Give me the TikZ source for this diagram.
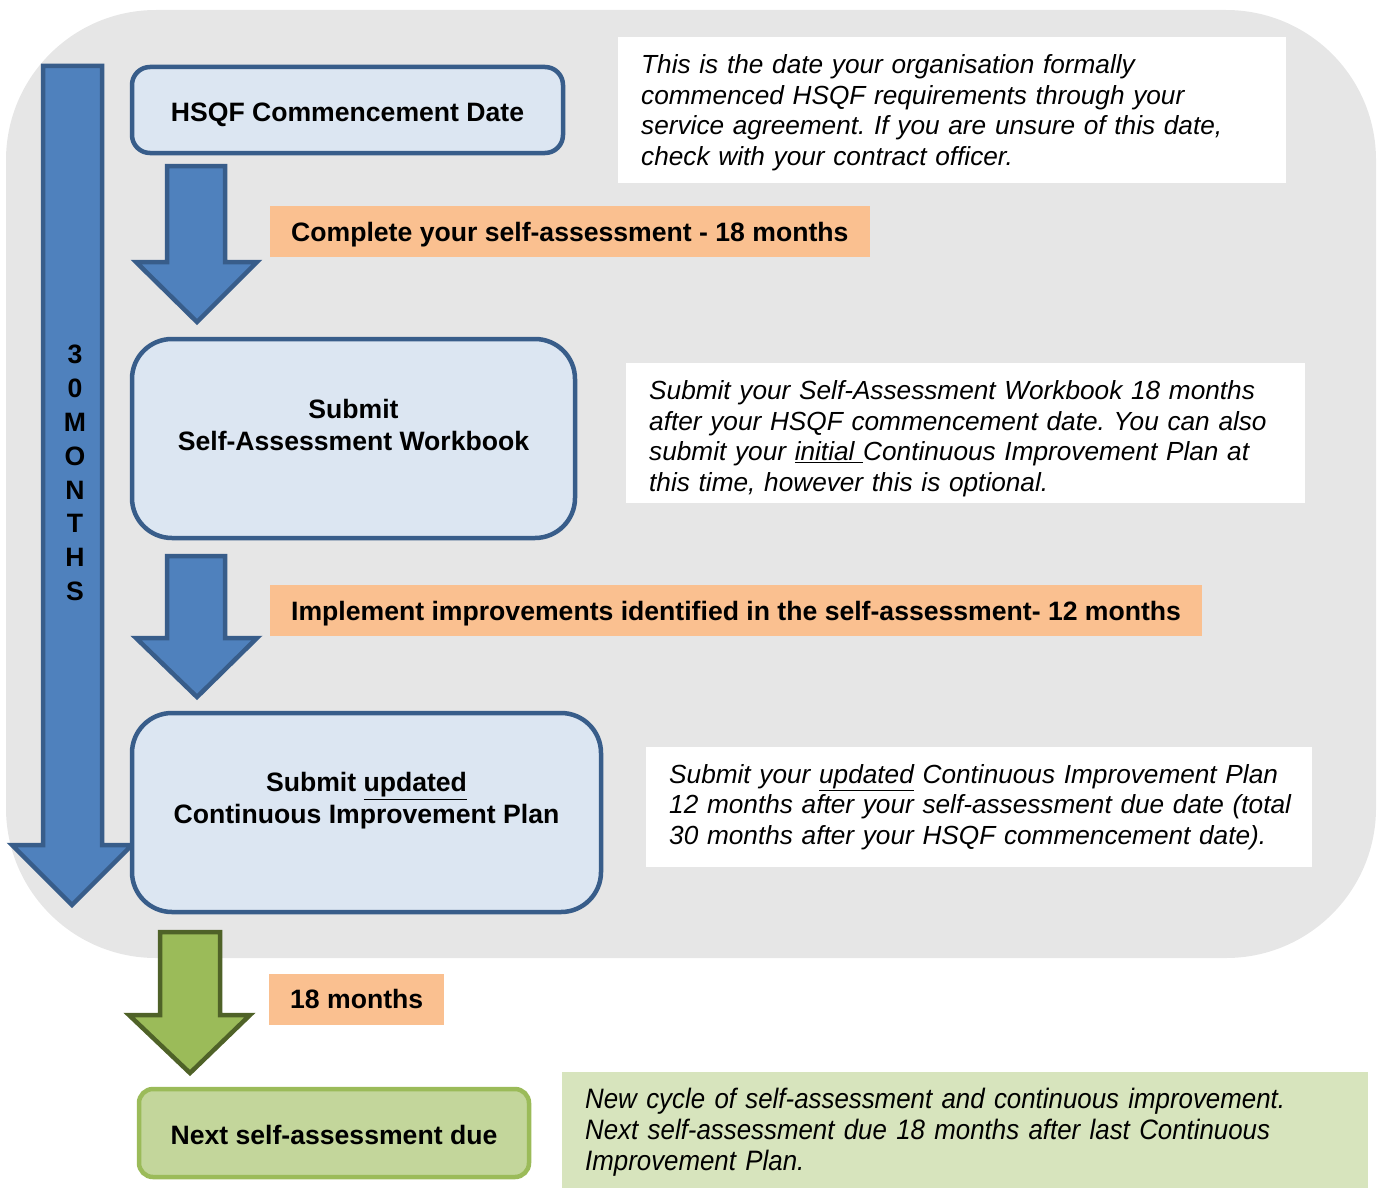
\documentclass[tikz,border=0pt]{standalone}
\usepackage{fontspec}
\setmainfont{Liberation Sans}
\newfontfamily\narrowfont[FakeStretch=0.92]{Liberation Sans}
\usetikzlibrary{positioning}
\frenchspacing

\definecolor{bgGray}{HTML}{E6E6E6}
\definecolor{arrowBlue}{HTML}{4F81BD}
\definecolor{edgeBlue}{HTML}{385D8A}
\definecolor{boxBlue}{HTML}{DCE6F2}
\definecolor{tagOrange}{HTML}{FAC090}
\definecolor{arrowGreen}{HTML}{9BBB59}
\definecolor{edgeGreen}{HTML}{4F6228}
\definecolor{boxGreen}{HTML}{C3D69B}
\definecolor{noteGreen}{HTML}{D7E4BD}

\newcommand{\notestrut}[1]{\rule{0pt}{#1}}

\begin{document}
\begin{tikzpicture}[x=1pt,y=-1pt,
  bold txt/.style={font=\bfseries\fontsize{26.6}{32}\selectfont},
  one line/.style={text height=#1,text depth=0pt},
  stage box/.style={draw=edgeBlue,fill=boxBlue,line width=4.5pt,rounded corners=40pt},
  due box/.style={draw=arrowGreen,fill=boxGreen,line width=4.5pt,rounded corners=14pt,
    bold txt,one line=23pt,minimum width=390pt,minimum height=88pt},
  tag node/.style={fill=tagOrange,bold txt,one line=19pt,anchor=west,inner xsep=21pt,
    minimum height=51pt},
  note node/.style={fill=white,anchor=north west,align=left,inner xsep=23pt,inner ysep=0pt,
    font=\itshape\fontsize{26.2}{30.7}\selectfont},
  blue arrow/.style={draw=edgeBlue,fill=arrowBlue,line width=4.5pt},
  green arrow/.style={draw=edgeGreen,fill=arrowGreen,line width=4.5pt}]
  \useasboundingbox (0,0) rectangle (1380,1188);
  \fill[bgGray,rounded corners=150pt] (6,10) rectangle (1376,958);

  % 30 months arrow
  \draw[blue arrow] (43,66) -- (102,66) -- (102,845) -- (132,845) -- (72,905)
    -- (12,845) -- (43,845) -- cycle;
  \node[align=center,font=\bfseries\fontsize{26.6}{33.8}\selectfont] (months) at (75,473)
    {3\\0\\M\\O\\N\\T\\H\\S};

  % stages
  \node[stage box,rounded corners=18pt,minimum width=431pt,minimum height=86pt,bold txt,
    one line=23pt] (hsqf) at (347.5,110) {HSQF Commencement Date};
  \node[stage box,minimum width=443pt,minimum height=199pt] (workbook) at (353.5,438.5) {};
  \node[bold txt,align=center] (workbookTxt) at (353.5,425) {Submit\\Self-Assessment Workbook};
  \node[stage box,minimum width=469pt,minimum height=199pt] (plan) at (366.5,812.5) {};
  \node[bold txt,align=center] (planTxt) at (366.5,801) {Submit \underline{updated}\\Continuous Improvement Plan};
  \node[due box] (next) at (334,1133) {Next self-assessment due};

  % down arrows
  \draw[blue arrow] (167,166) -- (225,166) -- (225,262) -- (257,262) -- (197,322)
    -- (136,262) -- (167,262) -- cycle;
  \draw[blue arrow] (167,556) -- (225,556) -- (225,638) -- (257,638) -- (197,697)
    -- (136,638) -- (167,638) -- cycle;
  \draw[green arrow] (160,932) -- (220,932) -- (220,1015) -- (250,1015) -- (190,1073)
    -- (129,1015) -- (160,1015) -- cycle;

  % time tags
  \node[tag node] (tagA) at (270,231.5) {Complete your self-assessment - 18 months};
  \node[tag node] (tagB) at (270,610.5) {Implement improvements identified in the self-assessment- 12 months};
  \node[tag node] (tagC) at (269,999) {18 months};

  % notes
  \node[note node,text width=622pt,minimum height=146pt] (noteA) at (618,37)
    {\notestrut{24pt}This is the date your organisation formally\\
     commenced HSQF requirements through your\\
     service agreement. If you are unsure of this date,\\
     check with your contract officer.};
  \node[note node,text width=633pt,minimum height=140pt] (noteB) at (626,363)
    {\notestrut{30pt}Submit your Self-Assessment Workbook 18 months\\
     after your HSQF commencement date. You can also\\
     submit your \underline{initial }Continuous Improvement Plan at\\
     this time, however this is optional.};
  \node[note node,text width=620pt,minimum height=120pt] (noteC) at (646,747)
    {\mbox{Submit your \underline{updated} Continuous Improvement Plan}\\
     \mbox{12 months after your self-assessment due date (total}\\
     \mbox{30 months after your HSQF commencement date).}};
  \node[note node,fill=noteGreen,text width=760pt,minimum height=116pt,
    font=\narrowfont\itshape\fontsize{28.1}{31}\selectfont] (noteD) at (562,1072)
    {\notestrut{25pt}New cycle of self-assessment and continuous improvement.\\
     Next self-assessment due 18 months after last Continuous\\
     Improvement Plan.};
\end{tikzpicture}
\end{document}
